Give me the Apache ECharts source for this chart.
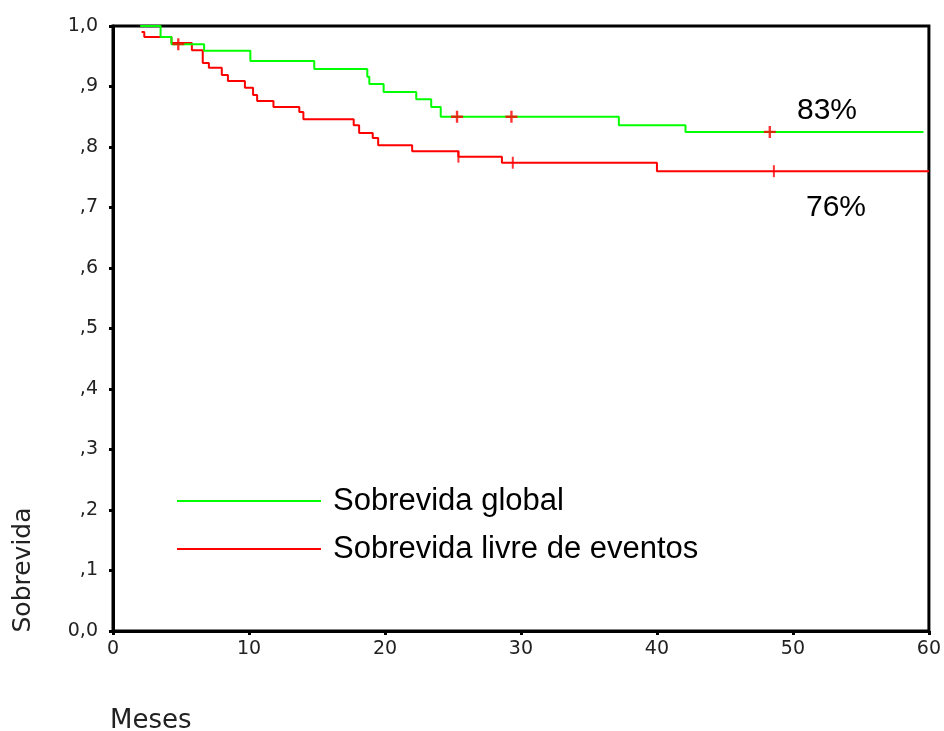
<!DOCTYPE html>
<html lang="pt">
<head>
    <meta charset="UTF-8">
    <title>Sobrevida</title>
    <script type="text/javascript" src="https://cdn.jsdelivr.net/npm/echarts@6/dist/echarts.min.js"></script>
</head>
<body style="margin:0;background:#fff;">
<div id="main" style="width: 944px;height:731px;"></div>
<script type="text/javascript">
    // Sobrevida global (meses, proporcao)
    var globalMonths = [2.0, 3.5, 4.3, 6.7, 10.1, 14.8, 18.7, 18.85, 19.9, 22.3, 23.4, 24.1, 37.2, 42.1, 59.6];
    var globalSurv   = [1.0, 0.982, 0.970, 0.959, 0.942, 0.929, 0.916, 0.904, 0.891, 0.879, 0.866, 0.850, 0.836, 0.825, 0.825];
    // Sobrevida livre de eventos
    var efsMonths = [2.1, 2.3, 4.3, 5.8, 6.6, 7.05, 8.0, 8.45, 9.7, 10.3, 10.6, 11.8, 13.7, 14.0, 17.7, 18.1, 19.1, 19.5, 22.0, 25.4, 28.6, 40.0, 60];
    var efsSurv   = [0.99, 0.982, 0.972, 0.960, 0.939, 0.931, 0.919, 0.909, 0.898, 0.886, 0.876, 0.866, 0.858, 0.846, 0.836, 0.823, 0.815, 0.803, 0.793, 0.784, 0.774, 0.760, 0.760];
    // casos censurados
    var globalCensMonths = [4.8, 25.3, 29.3, 48.3];
    var globalCensSurv   = [0.970, 0.850, 0.850, 0.825];
    var efsCensMonths = [25.4, 29.4, 48.6];
    var efsCensSurv   = [0.784, 0.774, 0.760];

    var yTickLabels = ['0,0', ',1', ',2', ',3', ',4', ',5', ',6', ',7', ',8', ',9', '1,0'];
    var xTickLabels = ['0', '10', '20', '30', '40', '50', '60'];

    function pairs(xs, ys) {
        var out = [];
        for (var i = 0; i < xs.length; i++) out.push([xs[i], ys[i]]);
        return out;
    }

    var plusPath = 'path://M4,0 L6,0 L6,4 L10,4 L10,6 L6,6 L6,10 L4,10 L4,6 L0,6 L0,4 L4,4 Z';
    var barPath = 'path://M0,0 L2,0 L2,10 L0,10 Z';

    var myChart = echarts.init(document.getElementById('main'));

    var option = {
        animation: false,
        backgroundColor: '#fff',
        grid: {
            left: 113, right: 14, top: 26, bottom: 100,
            show: true, borderColor: '#000', borderWidth: 3
        },
        legend: {
            orient: 'vertical',
            left: 172,
            top: 479,
            itemWidth: 144,
            itemHeight: 2,
            itemGap: 14,
            icon: 'rect',
            data: ['Sobrevida global', 'Sobrevida livre de eventos'],
            textStyle: {
                fontFamily: 'Liberation Sans',
                fontSize: 31,
                lineHeight: 34,
                color: '#000',
                padding: [0, 0, 0, 7]
            }
        },
        xAxis: {
            type: 'value',
            min: 0, max: 60, interval: 10,
            splitLine: {show: false},
            axisLine: {lineStyle: {color: '#000', width: 3}},
            axisTick: {length: 4, lineStyle: {color: '#000', width: 3}},
            axisLabel: {
                margin: 9,
                fontFamily: 'DejaVu Sans', fontSize: 19, color: '#222',
                formatter: function (v) { return xTickLabels[Math.round(v / 10)]; }
            }
        },
        yAxis: {
            type: 'value',
            min: 0, max: 1, interval: 0.1,
            splitLine: {show: false},
            axisLine: {lineStyle: {color: '#000', width: 3}},
            axisTick: {length: 4, lineStyle: {color: '#000', width: 3}},
            axisLabel: {
                margin: 15,
                fontFamily: 'DejaVu Sans', fontSize: 19, color: '#222',
                formatter: function (v) { return yTickLabels[Math.round(v * 10)]; }
            }
        },
        graphic: [
            {type: 'text', left: 110, top: 708,
                style: {text: 'Meses', fontFamily: 'DejaVu Sans', fontSize: 26, fill: '#222'}},
            {type: 'text', x: 23, y: 570, rotation: Math.PI / 2,
                style: {text: 'Sobrevida', fontFamily: 'DejaVu Sans', fontSize: 25, fill: '#222',
                    align: 'center', verticalAlign: 'middle'}},
            {type: 'text', left: 797, top: 96,
                style: {text: '83%', fontFamily: 'Liberation Sans', fontSize: 30, fill: '#000'}},
            {type: 'text', left: 806, top: 193,
                style: {text: '76%', fontFamily: 'Liberation Sans', fontSize: 30, fill: '#000'}}
        ],
        series: [
            {
                name: 'Sobrevida livre de eventos',
                type: 'line',
                step: 'end',
                symbol: 'none',
                color: '#ff0000',
                lineStyle: {color: '#ff0000', width: 2},
                data: pairs(efsMonths, efsSurv)
            },
            {
                name: 'Sobrevida global',
                type: 'line',
                step: 'end',
                symbol: 'none',
                color: '#00ff00',
                lineStyle: {color: '#00ff00', width: 2},
                data: pairs(globalMonths, globalSurv)
            },
            {
                name: 'censurados global',
                type: 'scatter',
                symbol: plusPath,
                symbolSize: 12,
                itemStyle: {color: '#ff0000'},
                z: 5,
                data: pairs(globalCensMonths, globalCensSurv)
            },
            {
                name: 'censurados livre',
                type: 'scatter',
                symbol: barPath,
                symbolSize: [2, 12],
                itemStyle: {color: '#ff0000'},
                z: 5,
                data: pairs(efsCensMonths, efsCensSurv)
            }
        ]
    };

    myChart.setOption(option);
</script>
</body>
</html>
